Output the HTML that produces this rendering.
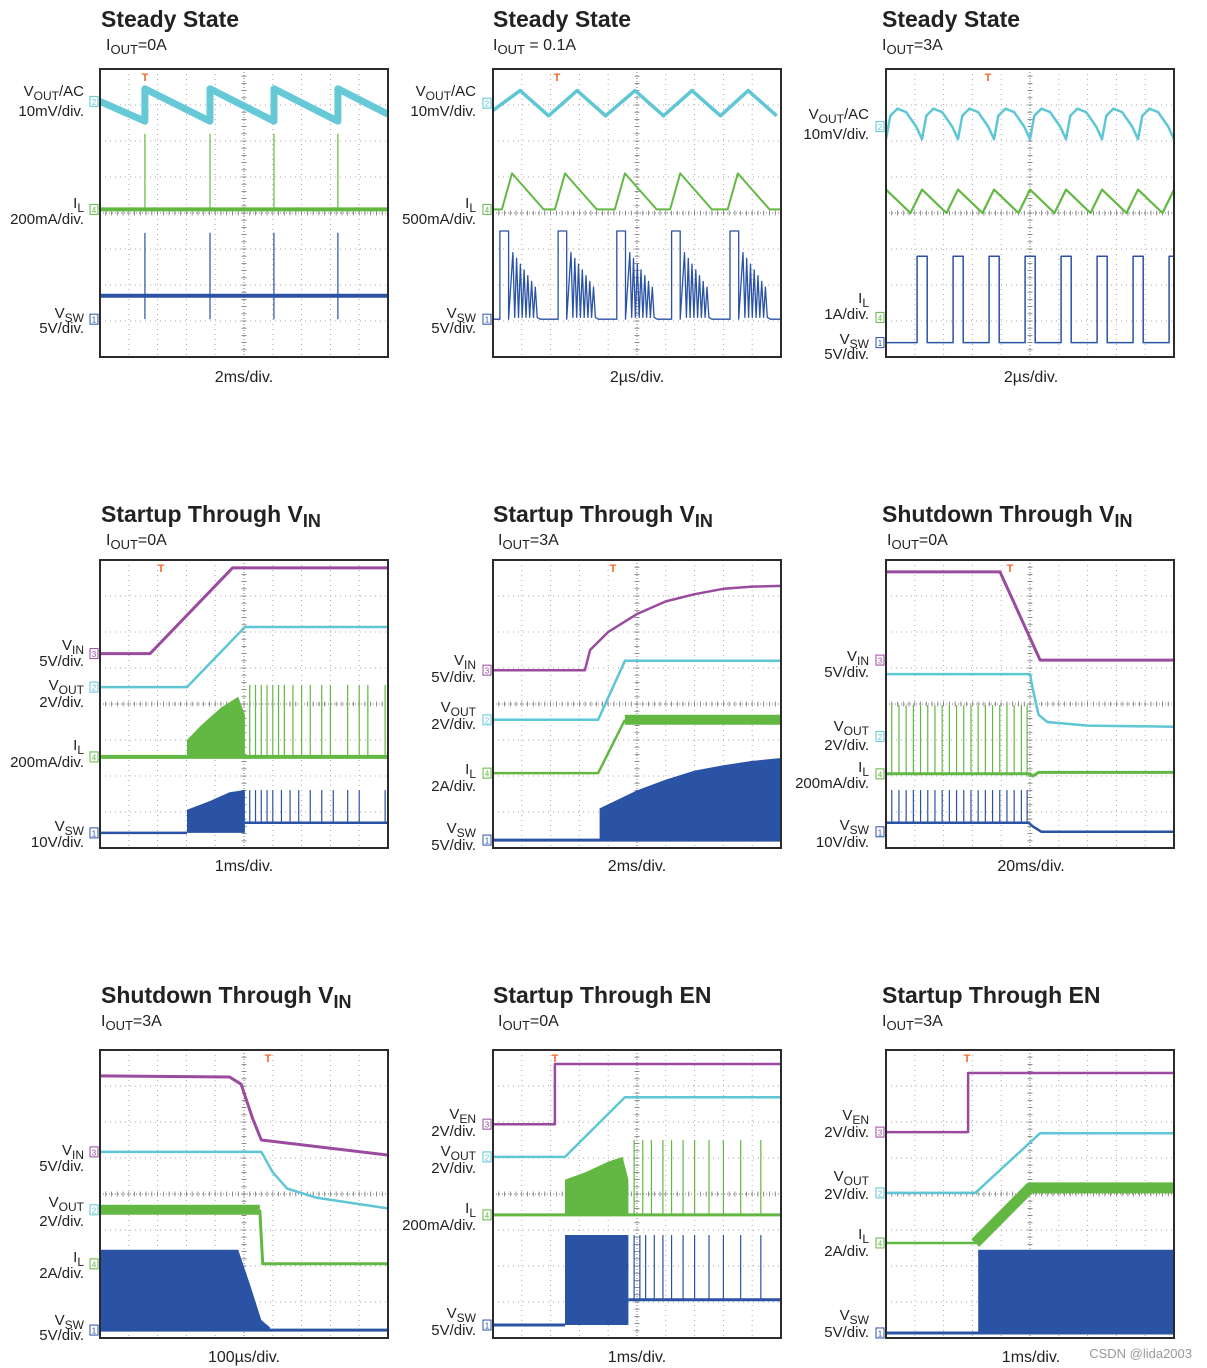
<!DOCTYPE html>
<html><head><meta charset="utf-8">
<style>
html,body{margin:0;padding:0;background:#fff;}
svg{display:block;font-family:"Liberation Sans",Arial,sans-serif;}
</style></head>
<body>
<svg id="s" width="1207" height="1368" viewBox="0 0 1207 1368" xmlns="http://www.w3.org/2000/svg"></svg>
<script>
// ---------- data (x in divisions 0-10, y in divisions from top 0-8) ----------
// Row 1
const a_teeth=[1.56,3.82,6.04,8.26];
const b_vout_peaks=[0.94,2.92,4.93,6.91,8.86];
const b_il_peaks=[0.66,2.5,4.58,6.5,8.5];
const b_sw_pulses=[0.24,2.26,4.3,6.2,8.23];
const c_vout_arches=[0,1.25,2.5,3.75,5.0,6.25,7.5,8.75];
const c_il_valleys=[0,1.25,2.5,3.75,5.0,6.25,7.5,8.75];
const c_sw_pulses=[1.08,2.33,3.58,4.83,6.08,7.33,8.58,9.83];
// Row 2 A
const d_vin=[[0,2.6],[1.74,2.6],[4.6,0.22],[10,0.22]];
const d_vout=[[0,3.53],[3.02,3.53],[5.03,1.86],[10,1.86]];
const d_il_burst=[[3.02,5.0],[3.5,4.6],[4.2,4.1],[4.8,3.8],[5.03,4.3],[5.03,5.47]];
const d_il_spikes=[5.2,5.4,5.6,5.8,6.0,6.2,6.4,6.7,7.0,7.3,7.7,8.0,8.6,9.0,9.3,9.9];
const d_sw_burst=[[3.02,6.94],[3.8,6.7],[4.5,6.45],[5.03,6.39]];
const d_sw_spikes=[5.2,5.4,5.6,5.8,6.0,6.3,6.6,6.9,7.3,7.7,8.1,8.6,9.0,9.9];
// Row 2 B
const e_vin=[[0,3.06],[3.19,3.06],[3.37,2.5],[4,2.0],[5,1.5],[6,1.15],[7,0.95],[8,0.8],[9,0.74],[10,0.72]];
const e_vout=[[0,4.44],[3.65,4.44],[4.58,2.8],[10,2.8]];
const e_il=[[0,5.92],[3.65,5.92],[4.58,4.44],[10,4.44]];
const e_sw=[[3.7,6.9],[5,6.4],[6,6.1],[7,5.85],[8,5.7],[9,5.58],[10,5.5]];
// Row 2 C
const f_vin=[[0,0.33],[3.96,0.33],[5.35,2.78],[10,2.78]];
const f_vout=[[0,3.17],[5.0,3.17],[5.1,3.6],[5.3,4.3],[5.6,4.5],[7,4.6],[10,4.63]];
const f_il_spikes=[0.2,0.45,0.7,0.95,1.2,1.45,1.7,1.95,2.2,2.45,2.7,2.95,3.2,3.45,3.7,3.95,4.2,4.45,4.7,4.9];
const f_sw_spikes=[0.2,0.45,0.7,0.95,1.2,1.45,1.7,1.95,2.2,2.45,2.7,2.95,3.2,3.45,3.7,3.95,4.2,4.45,4.7,4.9];
// Row 3 A
const g_vin=[[0,0.72],[4.5,0.75],[4.9,0.95],[5.3,1.9],[5.6,2.5],[10,2.92]];
const g_vout=[[0,2.83],[5.6,2.83],[6,3.4],[6.5,3.85],[7.5,4.1],[10,4.4]];
const g_il=[[0,4.44],[5.55,4.44],[5.65,5.94],[10,5.94]];
const g_sw=[[0,5.55],[4.8,5.55],[5.2,6.5],[5.6,7.5],[5.9,7.7],[7,7.75],[10,7.78]];
// Row 3 B
const h_ven=[[0,2.06],[2.15,2.06],[2.15,0.39],[10,0.39]];
const h_vout=[[0,2.97],[2.5,2.97],[4.58,1.31],[10,1.31]];
const h_il_burst=[[2.5,3.6],[3.2,3.4],[4.0,3.1],[4.5,2.97],[4.7,3.6]];
const h_il_spikes=[4.9,5.2,5.5,5.9,6.2,6.6,7.0,7.5,8.0,8.6,9.3];
const h_sw_spikes=[4.9,5.1,5.3,5.6,5.9,6.2,6.6,7.0,7.5,8.0,8.6,9.3];
// Row 3 C
const i_ven=[[0,2.28],[2.85,2.28],[2.85,0.64],[10,0.64]];
const i_vout=[[0,3.97],[3.1,3.97],[5.35,2.31],[10,2.31]];
const i_il=[[0,5.36],[3.1,5.36],[5.0,3.83],[10,3.83]];
const i_sw=[[3.2,5.55],[10,5.55]];

const CY='#5ec6d4',GR='#63b843',BL='#2a52a5',PU='#9a4b9f';
const NS='http://www.w3.org/2000/svg';
const S=document.getElementById('s');
function el(tag,attrs,parent){const e=document.createElementNS(NS,tag);for(const k in attrs)e.setAttribute(k,attrs[k]);(parent||S).appendChild(e);return e;}
const DX=28.8,DY=36;
function X(p,t){return p.x+t*DX;}
function Y(p,v){return p.y+v*DY;}
function pts(p,arr){return arr.map(a=>X(p,a[0]).toFixed(1)+','+Y(p,a[1]).toFixed(1)).join(' ');}
function line(p,arr,color,w,name,op){const e=el('polyline',{points:pts(p,arr),fill:'none',stroke:color,'stroke-width':w,'stroke-linejoin':'round',opacity:op||1});

return e;}
function fillTo(p,top,base,color,name){const arr=top.slice();arr.push([top[top.length-1][0],base]);arr.unshift([top[0][0],base]);const e=el('polygon',{points:pts(p,arr),fill:color});

}
function spikes(p,ts,y1,y2,color,name,w){ts.forEach(t=>{const e=el('line',{x1:X(p,t),x2:X(p,t),y1:Y(p,y1),y2:Y(p,y2),stroke:color,'stroke-width':w||1.2});

});}

function panel(p){
  const g=el('g',{});
  
  
  for(let i=1;i<10;i++){if(i===5)continue;el('line',{x1:X(p,i),x2:X(p,i),y1:p.y,y2:p.y+288,stroke:'#aaa','stroke-width':1,'stroke-dasharray':'1 4'},g);}
  for(let j=1;j<8;j++){if(j===4)continue;el('line',{x1:p.x,x2:p.x+288,y1:Y(p,j),y2:Y(p,j),stroke:'#aaa','stroke-width':1,'stroke-dasharray':'1 4'},g);}
  el('line',{x1:X(p,5),x2:X(p,5),y1:p.y,y2:p.y+288,stroke:'#777','stroke-width':1,'stroke-dasharray':'1 2'},g);
  el('line',{x1:p.x,x2:p.x+288,y1:Y(p,4),y2:Y(p,4),stroke:'#777','stroke-width':1,'stroke-dasharray':'1 2'},g);
  for(let k=0;k<=50;k++){const x=p.x+k*DX/5;el('line',{x1:x,x2:x,y1:Y(p,4)-2.5,y2:Y(p,4)+2.5,stroke:'#777','stroke-width':0.8},g);}
  for(let k=0;k<=40;k++){const y=p.y+k*DY/5;el('line',{x1:X(p,5)-2.5,x2:X(p,5)+2.5,y1:y,y2:y,stroke:'#777','stroke-width':0.8},g);}
}
function border(p){const r=el('rect',{x:p.x,y:p.y,width:288,height:288,fill:'none',stroke:'#2b2b2b','stroke-width':2});


 const t=el('text',{x:p.tx,y:p.y+12,fill:'#f26a2a','font-size':11,'font-weight':'bold','text-anchor':'middle'});t.textContent='T';
 
 }
function marker(p,v,num,color,name){const y=Y(p,v);const r=el('rect',{x:p.x-10,y:y-5,width:8,height:10,fill:'#fff',stroke:color,'stroke-width':1});


 const t=el('text',{x:p.x-6,y:y+3.5,'font-size':8,fill:color,'text-anchor':'middle'});t.textContent=num;}
function label(x,y,main,sub,rest,name){const t=el('text',{x:x,y:y,'font-size':15,fill:'#222','text-anchor':'end'});
 
 
 const a=el('tspan',{},t);a.textContent=main;
 if(sub){const b=el('tspan',{dy:4,'font-size':12},t);b.textContent=sub;}
 if(rest){const c=el('tspan',{dy:sub?-4:0},t);c.textContent=rest;}}
function title(x,y,main,sub,name){const t=el('text',{x:x,y:y,'font-size':23,'font-weight':'bold',fill:'#222'});
 
 
 const a=el('tspan',{},t);a.textContent=main;
 if(sub){const b=el('tspan',{dy:5,'font-size':18},t);b.textContent=sub;}}
function subtitle(x,y,txt,name){const t=el('text',{x:x,y:y,'font-size':16,fill:'#222'});
 
 
 const a=el('tspan',{},t);a.textContent='I';const b=el('tspan',{dy:4,'font-size':13},t);b.textContent='OUT';const c=el('tspan',{dy:-4},t);c.textContent=txt;}
function tb(x,y,txt){const t=el('text',{x:x,y:y,'font-size':16,fill:'#222','text-anchor':'middle'});t.textContent=txt;
 
 }

const P=[
 {x:100,y:69,tx:145,name:'panel-steady-0a'},{x:493,y:69,tx:557,name:'panel-steady-0p1a'},{x:886,y:69,tx:988,name:'panel-steady-3a'},
 {x:100,y:560,tx:161,name:'panel-startup-vin-0a'},{x:493,y:560,tx:613,name:'panel-startup-vin-3a'},{x:886,y:560,tx:1010,name:'panel-shutdown-vin-0a'},
 {x:100,y:1050,tx:268,name:'panel-shutdown-vin-3a'},{x:493,y:1050,tx:555,name:'panel-startup-en-0a'},{x:886,y:1050,tx:967,name:'panel-startup-en-3a'}];
P.forEach(panel);

// ---- Panel A ----
(function(){const p=P[0];
 const slope=0.9/2.22;const v=[[0,0.9]];a_teeth.forEach(t=>{v.push([t,1.45]);v.push([t,0.55]);});
 const last=a_teeth[a_teeth.length-1];v.push([10,0.55+(10-last)*slope]);
 line(p,v,CY,7,'vout-trace',0.95);
 spikes(p,a_teeth,1.8,3.9,GR,'il-spike');
 line(p,[[0,3.9],[10,3.9]],GR,4,'il-trace');
 spikes(p,a_teeth,4.55,6.95,BL,'vsw-spike');
 line(p,[[0,6.3],[10,6.3]],BL,4,'vsw-trace');
 marker(p,0.9,'2',CY,'ch2-marker');marker(p,3.9,'4',GR,'ch4-marker');marker(p,6.95,'1',BL,'ch1-marker');
})();
// ---- Panel B ----
(function(){const p=P[1];
 const v=[[0,1.15]];b_vout_peaks.forEach(t=>{v.push([t,0.6]);v.push([t+0.99,1.3]);});
 line(p,v,CY,3.5,'vout-trace');
 const il=[[0,3.9]];b_il_peaks.forEach(t=>{il.push([t-0.35,3.9]);il.push([t,2.9]);il.push([t+1.1,3.9]);});il.push([10,3.9]);
 line(p,il,GR,2,'il-trace');
 const sw=[[0,6.95]];b_sw_pulses.forEach(s=>{sw.push([s,6.95]);sw.push([s,4.5]);sw.push([s+0.3,4.5]);sw.push([s+0.3,6.95]);
   for(let k=0;k<14;k++){sw.push([s+0.45+k*0.065,k%2?6.9:5.1+k*0.08]);}sw.push([s+1.4,6.95]);});sw.push([10,6.95]);
 line(p,sw,BL,1.3,'vsw-trace');
 marker(p,0.95,'2',CY,'ch2-marker');marker(p,3.9,'4',GR,'ch4-marker');marker(p,6.95,'1',BL,'ch1-marker');
})();
// ---- Panel C ----
(function(){const p=P[2];
 const v=[];c_vout_arches.forEach(k=>{[[0,1.95],[0.15,1.3],[0.4,1.1],[0.7,1.2],[1.05,1.6]].forEach(a=>v.push([k+a[0],a[1]]));});v.push([10,1.95]);
 line(p,v.filter(a=>a[0]<=10),CY,2.5,'vout-trace');
 const il=[];c_il_valleys.forEach(k=>{il.push([k,3.35]);il.push([k+0.85,4.0]);});il.push([10,3.35]);
 line(p,il.filter(a=>a[0]<=10),GR,2.2,'il-trace');
 const sw=[[0,7.6]];c_sw_pulses.forEach(s=>{sw.push([s,7.6]);sw.push([s,5.2]);sw.push([Math.min(10,s+0.35),5.2]);if(s+0.35<10)sw.push([s+0.35,7.6]);});if(sw[sw.length-1][0]<10)sw.push([10,7.6]);
 line(p,sw,BL,1.5,'vsw-trace');
 marker(p,1.6,'2',CY,'ch2-marker');marker(p,6.9,'4',GR,'ch4-marker');marker(p,7.6,'1',BL,'ch1-marker');
})();
// ---- Row 2 ----
(function(){const p=P[3];
 line(p,d_vin,PU,3,'vin-trace');line(p,d_vout,CY,2.5,'vout-trace');
 fillTo(p,d_il_burst,5.47,GR,'il-burst');spikes(p,d_il_spikes,3.47,5.47,GR,'il-spike');
 line(p,[[0,5.47],[10,5.47]],GR,4,'il-trace');
 fillTo(p,d_sw_burst,7.58,BL,'vsw-burst');spikes(p,d_sw_spikes,6.39,7.3,BL,'vsw-spike');
 line(p,[[0,7.58],[3.02,7.58]],BL,2.5,'vsw-trace');line(p,[[5.03,7.3],[10,7.3]],BL,2.5,'vsw-trace-after');
 marker(p,2.6,'3',PU,'ch3-marker');marker(p,3.53,'2',CY,'ch2-marker');marker(p,5.47,'4',GR,'ch4-marker');marker(p,7.58,'1',BL,'ch1-marker');
})();
(function(){const p=P[4];
 line(p,e_vin,PU,2.5,'vin-trace');line(p,e_vout,CY,2.5,'vout-trace');
 line(p,e_il.slice(0,3),GR,2.5,'il-trace');line(p,e_il.slice(2),GR,10,'il-band');
 fillTo(p,e_sw,7.78,BL,'vsw-burst');line(p,[[0,7.78],[10,7.78]],BL,3,'vsw-trace');
 marker(p,3.06,'3',PU,'ch3-marker');marker(p,4.44,'2',CY,'ch2-marker');marker(p,5.92,'4',GR,'ch4-marker');marker(p,7.78,'1',BL,'ch1-marker');
})();
(function(){const p=P[5];
 line(p,f_vin,PU,3,'vin-trace');line(p,f_vout,CY,2.5,'vout-trace');
 spikes(p,f_il_spikes,4.03,5.94,GR,'il-spike');line(p,[[0,5.94],[5.0,5.94],[5.1,6.0],[5.3,5.9],[10,5.9]],GR,3,'il-trace');
 spikes(p,f_sw_spikes,6.39,7.3,BL,'vsw-spike');line(p,[[0,7.3],[4.95,7.3],[5.1,7.4],[5.4,7.55],[10,7.55]],BL,2.5,'vsw-trace');
 marker(p,2.78,'3',PU,'ch3-marker');marker(p,4.9,'2',CY,'ch2-marker');marker(p,5.94,'4',GR,'ch4-marker');marker(p,7.55,'1',BL,'ch1-marker');
})();
// ---- Row 3 ----
(function(){const p=P[6];
 line(p,g_vin,PU,3,'vin-trace');line(p,g_vout,CY,2.5,'vout-trace');
 line(p,g_il.slice(0,2),GR,10,'il-band');line(p,g_il.slice(1),GR,3,'il-trace');
 fillTo(p,g_sw.slice(0,5),7.8,BL,'vsw-burst');line(p,[[0,7.78],[10,7.78]],BL,3,'vsw-trace');
 marker(p,2.83,'3',PU,'ch3-marker');marker(p,4.44,'2',CY,'ch2-marker');marker(p,5.94,'4',GR,'ch4-marker');marker(p,7.78,'1',BL,'ch1-marker');
})();
(function(){const p=P[7];
 line(p,h_ven,PU,2.5,'ven-trace');line(p,h_vout,CY,2.5,'vout-trace');
 fillTo(p,h_il_burst,4.58,GR,'il-burst');spikes(p,h_il_spikes,2.5,4.58,GR,'il-spike');line(p,[[0,4.58],[10,4.58]],GR,3,'il-trace');
 fillTo(p,[[2.5,5.14],[4.7,5.14]],7.64,BL,'vsw-burst');spikes(p,h_sw_spikes,5.14,6.94,BL,'vsw-spike');
 line(p,[[0,7.64],[2.5,7.64]],BL,3,'vsw-trace');line(p,[[4.7,6.94],[10,6.94]],BL,3,'vsw-trace-after');
 marker(p,2.06,'3',PU,'ch3-marker');marker(p,2.97,'2',CY,'ch2-marker');marker(p,4.58,'4',GR,'ch4-marker');marker(p,7.64,'1',BL,'ch1-marker');
})();
(function(){const p=P[8];
 line(p,i_ven,PU,2.5,'ven-trace');line(p,i_vout,CY,2.5,'vout-trace');
 line(p,i_il.slice(0,3),GR,2.5,'il-trace');line(p,i_il.slice(1),GR,11,'il-band');
 fillTo(p,i_sw,7.86,BL,'vsw-burst');line(p,[[0,7.86],[10,7.86]],BL,3,'vsw-trace');
 marker(p,2.28,'3',PU,'ch3-marker');marker(p,3.97,'2',CY,'ch2-marker');marker(p,5.36,'4',GR,'ch4-marker');marker(p,7.86,'1',BL,'ch1-marker');
})();
P.forEach(border);

// ---- text ----
title(101,27,'Steady State','','title-steady-0a');subtitle(106,50,'=0A','subtitle');
title(493,27,'Steady State','','title-steady-0p1a');subtitle(493,50,' = 0.1A','subtitle');
title(882,27,'Steady State','','title-steady-3a');subtitle(882,50,'=3A','subtitle');
title(101,522,'Startup Through V','IN','title-startup-vin-0a');subtitle(106,545,'=0A','subtitle');
title(493,522,'Startup Through V','IN','title-startup-vin-3a');subtitle(498,545,'=3A','subtitle');
title(882,522,'Shutdown Through V','IN','title-shutdown-vin-0a');subtitle(887,545,'=0A','subtitle');
title(101,1003,'Shutdown Through V','IN','title-shutdown-vin-3a');subtitle(101,1026,'=3A','subtitle');
title(493,1003,'Startup Through EN','','title-startup-en-0a');subtitle(498,1026,'=0A','subtitle');
title(882,1003,'Startup Through EN','','title-startup-en-3a');subtitle(882,1026,'=3A','subtitle');

const L=[
 [84,96,'V','OUT','/AC'],[84,116,'10mV/div.','',''],[84,208,'I','L',''],[84,224,'200mA/div.','',''],[84,318,'V','SW',''],[84,333,'5V/div.','',''],
 [476,96,'V','OUT','/AC'],[476,116,'10mV/div.','',''],[476,208,'I','L',''],[476,224,'500mA/div.','',''],[476,318,'V','SW',''],[476,333,'5V/div.','',''],
 [869,119,'V','OUT','/AC'],[869,139,'10mV/div.','',''],[869,303,'I','L',''],[869,319,'1A/div.','',''],[869,344,'V','SW',''],[869,359,'5V/div.','',''],
 [84,650,'V','IN',''],[84,666,'5V/div.','',''],[84,690,'V','OUT',''],[84,707,'2V/div.','',''],[84,750,'I','L',''],[84,767,'200mA/div.','',''],[84,831,'V','SW',''],[84,847,'10V/div.','',''],
 [476,665,'V','IN',''],[476,682,'5V/div.','',''],[476,712,'V','OUT',''],[476,729,'2V/div.','',''],[476,774,'I','L',''],[476,791,'2A/div.','',''],[476,833,'V','SW',''],[476,850,'5V/div.','',''],
 [869,661,'V','IN',''],[869,677,'5V/div.','',''],[869,731,'V','OUT',''],[869,750,'2V/div.','',''],[869,772,'I','L',''],[869,788,'200mA/div.','',''],[869,830,'V','SW',''],[869,847,'10V/div.','',''],
 [84,1155,'V','IN',''],[84,1171,'5V/div.','',''],[84,1207,'V','OUT',''],[84,1226,'2V/div.','',''],[84,1262,'I','L',''],[84,1278,'2A/div.','',''],[84,1325,'V','SW',''],[84,1340,'5V/div.','',''],
 [476,1119,'V','EN',''],[476,1136,'2V/div.','',''],[476,1156,'V','OUT',''],[476,1173,'2V/div.','',''],[476,1213,'I','L',''],[476,1230,'200mA/div.','',''],[476,1318,'V','SW',''],[476,1335,'5V/div.','',''],
 [869,1120,'V','EN',''],[869,1137,'2V/div.','',''],[869,1181,'V','OUT',''],[869,1199,'2V/div.','',''],[869,1239,'I','L',''],[869,1256,'2A/div.','',''],[869,1320,'V','SW',''],[869,1337,'5V/div.','','']];
L.forEach(l=>label(l[0],l[1],l[2],l[3],l[4],'channel-label'));
tb(244,382,'2ms/div.');tb(637,382,'2µs/div.');tb(1031,382,'2µs/div.');
tb(244,871,'1ms/div.');tb(637,871,'2ms/div.');tb(1031,871,'20ms/div.');
tb(244,1362,'100µs/div.');tb(637,1362,'1ms/div.');tb(1031,1362,'1ms/div.');
const w=el('text',{x:1192,y:1358,'font-size':13,fill:'#999','text-anchor':'end'});w.textContent='CSDN @lida2003';


</script>
</body></html>
